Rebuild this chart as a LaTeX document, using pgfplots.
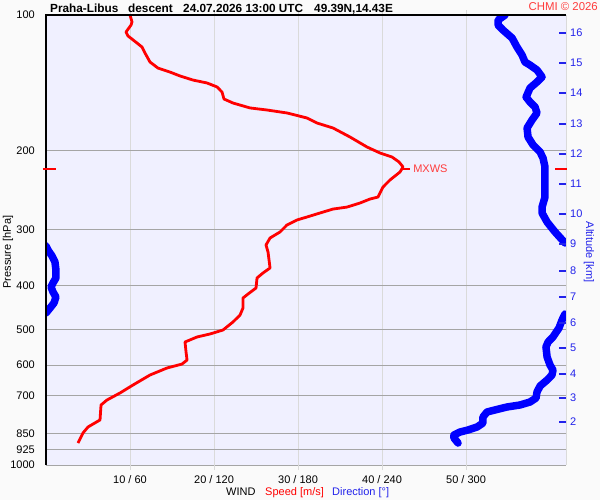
\documentclass[border=0pt]{standalone}
\usepackage{fontspec}
\setmainfont{Liberation Sans}
\usepackage{pgfplots}
\usepackage{pgfplotstable}
\pgfplotsset{compat=1.18}

\definecolor{plotbg}{RGB}{240,240,255}
\definecolor{pagebg}{RGB}{250,250,250}
\definecolor{hgrid}{RGB}{165,165,165}
\definecolor{vgrid}{RGB}{218,218,218}
\definecolor{speedred}{RGB}{255,0,0}
\definecolor{dirblue}{RGB}{0,0,255}
\definecolor{altblue}{RGB}{35,35,235}
\definecolor{lblred}{RGB}{255,60,60}

% wind speed [m/s] vs pressure [hPa]
\pgfplotstableread{
speed pres
10.00 100.0
10.24 103.6
10.12 105.3
9.52 109.1
9.76 111.3
10.83 115.4
11.43 117.8
11.79 121.5
12.38 127.2
13.33 131.2
14.76 133.9
15.95 136.6
17.50 139.5
19.17 141.6
20.36 144.5
20.95 148.3
21.19 153.7
22.26 156.9
24.29 160.9
26.31 162.6
28.69 165.1
31.07 169.4
32.26 173.8
34.17 178.3
36.19 186.7
38.21 196.5
39.76 202.6
41.19 206.8
42.02 212.1
42.50 217.6
42.14 223.3
40.95 232.6
40.12 241.1
39.52 253.8
38.57 256.4
37.38 261.7
35.83 267.2
34.17 269.9
32.62 275.4
31.07 281.1
29.88 285.4
28.69 292.8
27.86 303.5
26.67 313.0
26.19 324.4
26.43 336.3
26.67 364.9
25.83 374.4
25.12 384.1
25.00 404.3
24.05 416.9
23.45 425.5
23.45 447.8
23.10 464.2
22.26 481.0
21.07 501.2
19.52 511.5
17.98 519.4
16.55 532.9
16.67 561.0
16.79 584.5
16.19 596.6
14.40 608.8
12.38 631.0
10.36 664.1
8.81 691.8
7.26 717.1
6.55 735.6
6.43 794.3
5.60 810.8
5.00 823.3
4.40 849.0
3.81 893.6
}\speedtab

% wind direction [deg] vs pressure, three pieces (wrap around 0/360)
\pgfplotstableread{
dir pres
327.9 100.0
322.9 102.6
322.9 105.3
326.4 108.0
332.9 112.5
336.4 117.8
340.0 122.7
342.1 127.2
345.7 129.2
350.7 132.5
354.3 137.3
350.7 140.9
345.7 145.3
342.9 152.2
345.7 156.1
349.3 160.1
350.7 165.1
347.1 171.2
343.6 178.3
344.3 186.7
347.9 194.5
352.9 201.6
355.0 207.9
356.4 217.6
356.4 236.2
356.4 253.8
354.3 267.2
354.3 275.4
357.9 288.4
363.6 303.5
370.7 321.1
}\dirtop

\pgfplotstableread{
dir pres
0.0 326.1
1.4 332.9
4.3 343.2
6.4 353.9
7.1 368.7
7.1 384.1
5.0 394.0
3.6 402.2
5.0 412.6
7.1 423.3
5.7 436.5
2.9 447.8
0.0 459.4
}\dirmid

\pgfplotstableread{
dir pres
370.7 461.8
368.6 476.2
366.4 496.1
362.1 519.4
358.6 532.9
357.1 546.7
357.9 575.4
360.0 599.6
362.1 615.1
361.4 631.0
357.9 647.4
352.9 667.5
350.7 688.3
350.0 709.8
345.7 724.4
338.6 735.6
329.3 743.2
320.7 754.7
315.0 762.5
312.1 782.3
312.1 806.6
307.9 823.3
301.4 836.0
295.7 844.7
291.4 857.7
291.4 871.0
294.3 893.6
}\dirlow

\begin{document}
\begin{tikzpicture}[x=1pt,y=1pt]
\fill[pagebg] (0,0) rectangle (600,500);
\useasboundingbox (0,0) rectangle (600,500);

\begin{axis}[
  at={(46pt,35pt)}, anchor=south west,
  scale only axis, width=520pt, height=450pt,
  xmin=0, xmax=61.9,
  ymode=log, y dir=reverse, ymin=100, ymax=1000,
  ticklabel style={font=\fontsize{11}{13}\selectfont},
  axis background/.style={fill=plotbg},
  axis line style={draw=none},
  xtick={10,20,30,40,50},
  xticklabels={10 / 60, 20 / 120, 30 / 180, 40 / 240, 50 / 300},
  ytick={100,200,300,400,500,600,700,850,925,1000},
  yticklabels={100,200,300,400,500,600,700,850,925,1000},
  xmajorgrids, ymajorgrids,
  x grid style={vgrid, line width=1pt},
  y grid style={hgrid, line width=1pt},
  ytick style={draw=none},
  xtick style={vgrid, line width=1pt},
  tick align=outside, major tick length=5pt,
  yticklabel style={anchor=east, inner sep=0pt, xshift=-6pt},
  xticklabel style={anchor=base, inner sep=0pt, yshift=-13pt},
]
\addplot[dirblue, line width=7.5pt, line cap=round, line join=round]
  table[x expr=\thisrow{dir}/6, y=pres] {\dirtop};
\addplot[dirblue, line width=7.5pt, line cap=round, line join=round]
  table[x expr=\thisrow{dir}/6, y=pres] {\dirmid};
\addplot[dirblue, line width=7.5pt, line cap=round, line join=round]
  table[x expr=\thisrow{dir}/6, y=pres] {\dirlow};
\addplot[speedred, line width=2.8pt, line join=round]
  table[x=speed, y=pres] {\speedtab};
\end{axis}

\begin{axis}[
  at={(46pt,35pt)}, anchor=south west,
  scale only axis, width=520pt, height=450pt,
  xmin=0, xmax=61.9,
  ymode=log, y dir=reverse, ymin=100, ymax=1000,
  ticklabel style={font=\fontsize{11}{13}\selectfont},
  clip=false,
  axis x line=none,
  axis y line*=right,
  y axis line style={draw=vgrid, line width=1pt},
  ytick={109.6,127.8,149.1,174.7,203.6,237.4,276.9,322.8,370.6,423.3,483.5,549.5,627.8,709.8,802.6},
  yticklabels={16,15,14,13,12,11,10,9,8,7,6,5,4,3,2},
  ytick style={draw=altblue, line width=1.3pt},
  tick align=inside, major tick length=7pt,
  yticklabel style={anchor=west, inner sep=0pt, xshift=4pt, text=altblue},
]
% borders
\addplot[black, line width=1.2pt, forget plot] coordinates {(0,1000) (0,100) (61.9,100)};
% max wind level markers
\addplot[speedred, line width=1.2pt, forget plot] coordinates {(-0.36,220) (1.19,220)};
\addplot[speedred, line width=1.2pt, forget plot] coordinates {(60.6,220) (62.0,220)};
\addplot[speedred, line width=1.2pt, forget plot] coordinates {(42.4,220) (43.3,220)};
\node[anchor=west, inner sep=0pt, text=lblred, font=\fontsize{11}{13}\selectfont]
  at (axis cs:43.7,220) {MXWS};
\end{axis}

% titles and labels
\begin{scope}[every node/.style={inner sep=0pt}]
\node[anchor=base west, font=\fontsize{11.8}{14}\selectfont\bfseries] at (50,487) {Praha-Libus};
\node[anchor=base west, font=\fontsize{11.8}{14}\selectfont\bfseries] at (128,487) {descent};
\node[anchor=base west, font=\fontsize{11.8}{14}\selectfont\bfseries] at (183,487) {24.07.2026 13:00 UTC};
\node[anchor=base west, font=\fontsize{11.8}{14}\selectfont\bfseries] at (314,487) {49.39N,14.43E};
\node[anchor=base east, font=\fontsize{11.4}{14}\selectfont, text=lblred] at (598,489) {CHMI © 2026};
\node[rotate=90, font=\fontsize{11}{13}\selectfont] at (8,248) {Pressure [hPa]};
\node[rotate=-90, font=\fontsize{11}{13}\selectfont, text=altblue] at (589,248) {Altitude [km]};
\node[anchor=base west, font=\fontsize{11}{13}\selectfont] at (226,4) {WIND};
\node[anchor=base west, font=\fontsize{11}{13}\selectfont, text=speedred] at (265,4) {Speed [m/s]};
\node[anchor=base west, font=\fontsize{11}{13}\selectfont, text=altblue] at (332,4) {Direction [°]};
\end{scope}
\end{tikzpicture}
\end{document}
